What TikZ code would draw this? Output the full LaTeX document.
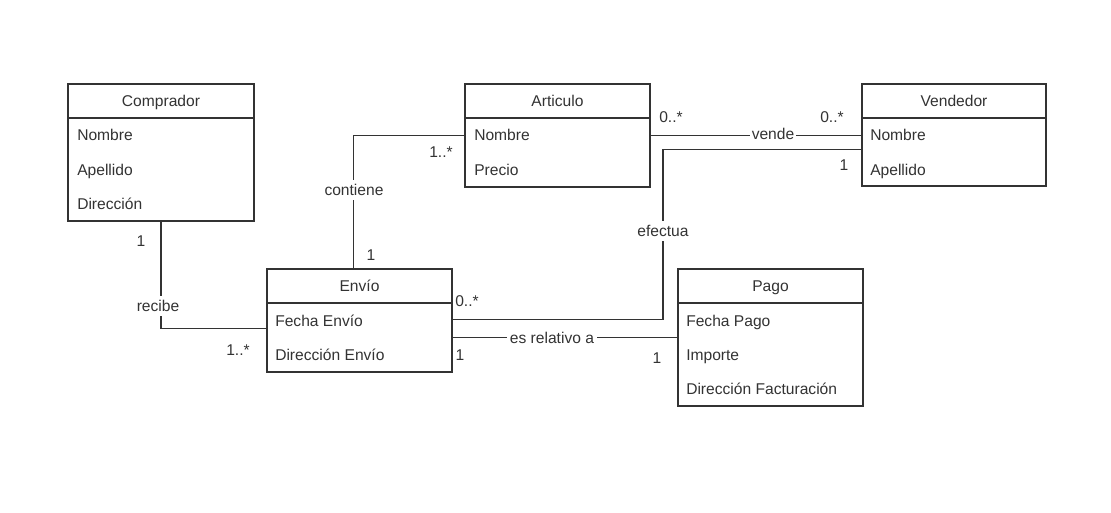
\documentclass[tikz,border=0pt]{standalone}
\usepackage{fontspec}
\setmainfont{Liberation Sans}
\usetikzlibrary{calc,fit}
\definecolor{ln}{HTML}{333333}
\definecolor{tx}{HTML}{333333}
\begin{document}
\begin{tikzpicture}[x=0.75pt,y=-0.75pt,
  every node/.style={font=\fontsize{11.7}{14}\selectfont, text=tx, text height=9.6pt, text depth=1.6pt},
  classbox/.style={draw=ln, line width=1pt, inner sep=0pt, text height=, text depth=},
  attr/.style={anchor=west, inner sep=0pt},
  ttl/.style={inner sep=0pt},
  lbl/.style={fill=white, inner sep=2pt},
  mult/.style={inner sep=0pt},
  conn/.style={draw=ln, line width=1pt}]
\useasboundingbox[fill=white] (0,0) rectangle (1111,512);

% Comprador
\coordinate (c1) at (68,84); \coordinate (c2) at (254,221);
\node[classbox, fit=(c1)(c2)] (comp) {};
\draw[conn] (68,118) -- (254,118);
\node[ttl] (compT) at (161,101) {Comprador};
\node[attr] (compA1) at (77,135) {Nombre};
\node[attr] (compA2) at (77,170) {Apellido};
\node[attr] (compA3) at (77,204) {Dirección};

% Articulo
\coordinate (a1) at (465,84); \coordinate (a2) at (650,187);
\node[classbox, fit=(a1)(a2)] (art) {};
\draw[conn] (465,118) -- (650,118);
\node[ttl] (artT) at (557.5,101) {Articulo};
\node[attr] (artA1) at (474,135) {Nombre};
\node[attr] (artA2) at (474,170) {Precio};

% Vendedor
\coordinate (v1) at (862,84); \coordinate (v2) at (1046,186);
\node[classbox, fit=(v1)(v2)] (ven) {};
\draw[conn] (862,118) -- (1046,118);
\node[ttl] (venT) at (954,101) {Vendedor};
\node[attr] (venA1) at (870,135) {Nombre};
\node[attr] (venA2) at (870,170) {Apellido};

% Envio
\coordinate (e1) at (267,269); \coordinate (e2) at (452,372);
\node[classbox, fit=(e1)(e2)] (env) {};
\draw[conn] (267,303) -- (452,303);
\node[ttl] (envT) at (359.5,286) {Envío};
\node[attr] (envA1) at (275,321) {Fecha Envío};
\node[attr] (envA2) at (275,355) {Dirección Envío};

% Pago
\coordinate (p1) at (678,269); \coordinate (p2) at (863,406);
\node[classbox, fit=(p1)(p2)] (pago) {};
\draw[conn] (678,303) -- (863,303);
\node[ttl] (pagoT) at (770.5,286) {Pago};
\node[attr] (pagoA1) at (686,321) {Fecha Pago};
\node[attr] (pagoA2) at (686,355) {Importe};
\node[attr] (pagoA3) at (686,389) {Dirección Facturación};

% connectors
\draw[conn] ($(env.north west)+(87,0)$) |- (art.west);
\draw[conn] (comp.south) |- ($(env.north west)+(0,60)$);
\draw[conn] (art.east) -- (art.east -| ven.west);
\coordinate (efx) at (663,235);
\draw[conn] ($(ven.north west)+(0,66)$) -| (efx) |- ($(env.north east)+(0,51)$);
\draw[conn] ($(env.north east)+(0,69)$) -- ($(pago.north west)+(0,69)$);

% association labels
\node[lbl] (lcont) at (354,190) {contiene};
\node[lbl] (lrec) at (158,306) {recibe};
\node[lbl, inner sep=1pt] (lven) at (773,134) {vende};
\node[lbl] (lefe) at (663,231) {efectua};
\node[lbl] (lrel) at (552,338) {es relativo a};

% multiplicities
\node[mult] (m1) at (441,152) {1..*};
\node[mult] (m2) at (371,255) {1};
\node[mult] (m3) at (141,241) {1};
\node[mult] (m4) at (238,350) {1..*};
\node[mult] (m5) at (671,117) {0..*};
\node[mult] (m6) at (832,117) {0..*};
\node[mult] (m7) at (844,165) {1};
\node[mult] (m8) at (467,301) {0..*};
\node[mult] (m9) at (460,355) {1};
\node[mult] (m10) at (657,358) {1};
\end{tikzpicture}
\end{document}
